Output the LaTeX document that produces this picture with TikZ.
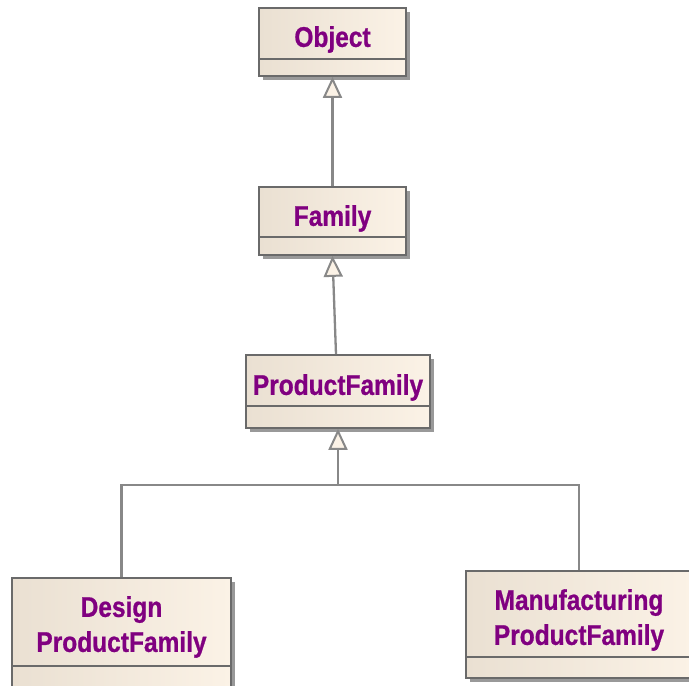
\documentclass[tikz,border=0pt]{standalone}
\usepackage{fontspec}
\newfontfamily\umlfont[FakeStretch=0.86, FakeBold=0.8]{Liberation Sans Bold}
\usetikzlibrary{shadows,arrows.meta}
\definecolor{clsname}{HTML}{800080}
\definecolor{clsedge}{HTML}{6A6A6A}
\definecolor{clsleft}{HTML}{EAE0D2}
\definecolor{clsright}{HTML}{FBF2E6}
\definecolor{linkgray}{HTML}{888888}
\tikzset{
  classbox/.style={rectangle, draw=clsedge, line width=1.7pt,
    left color=clsleft, right color=clsright, inner sep=0pt,
    drop shadow={shadow xshift=4pt, shadow yshift=-4pt, fill=black!40, opacity=1},
    path picture={\draw[clsedge, line width=1.7pt]
      ([yshift=#1]path picture bounding box.south west) --
      ([yshift=#1]path picture bounding box.south east);}},
  classname/.style={font=\umlfont\fontsize{28.5}{35}\selectfont, text=clsname, align=center, inner sep=0pt},
  gen/.style={draw=linkgray, line width=2.3pt,
    -{Triangle[open, fill=clsright, width=19pt, length=21pt, line width=2pt]}},
  link/.style={draw=linkgray, line width=2.3pt},
}
\begin{document}
\begin{tikzpicture}[x=1pt, y=-1pt]
  \useasboundingbox (0,0) rectangle (689,686);
  % class boxes
  \node[classbox=17pt, minimum width=147pt, minimum height=68pt] (obj) at (332.5,42) {};
  \node[classbox=18pt, minimum width=147pt, minimum height=68pt] (fam) at (332.5,221) {};
  \node[classbox=22pt, minimum width=184pt, minimum height=73pt] (pf) at (338,391.5) {};
  \node[classbox=22pt, minimum width=219pt, minimum height=110pt] (des) at (121.5,633) {};
  \node[classbox=21pt, minimum width=226pt, minimum height=107pt] (man) at (579,624.5) {};
  % class names
  \node[classname] (objname) at (332.5,39.5) {Object};
  \node[classname] (famname) at (332.5,218.5) {Family};
  \node[classname] (pfname) at (338,387.5) {ProductFamily};
  \node[classname] (desname) at (121.5,627) {Design\\ProductFamily};
  \node[classname] (manname) at (579,620) {Manufacturing\\ProductFamily};
  % generalisation links
  \draw[gen] (fam.north) -- (obj.south);
  \draw[gen] ([xshift=-2pt]pf.north) -- (fam.south);
  \coordinate (join) at (338,485);
  \draw[link] (des.north) |- (join);
  \draw[link] (man.north) |- (join);
  \draw[gen] (join) -- (pf.south);
\end{tikzpicture}
\end{document}
